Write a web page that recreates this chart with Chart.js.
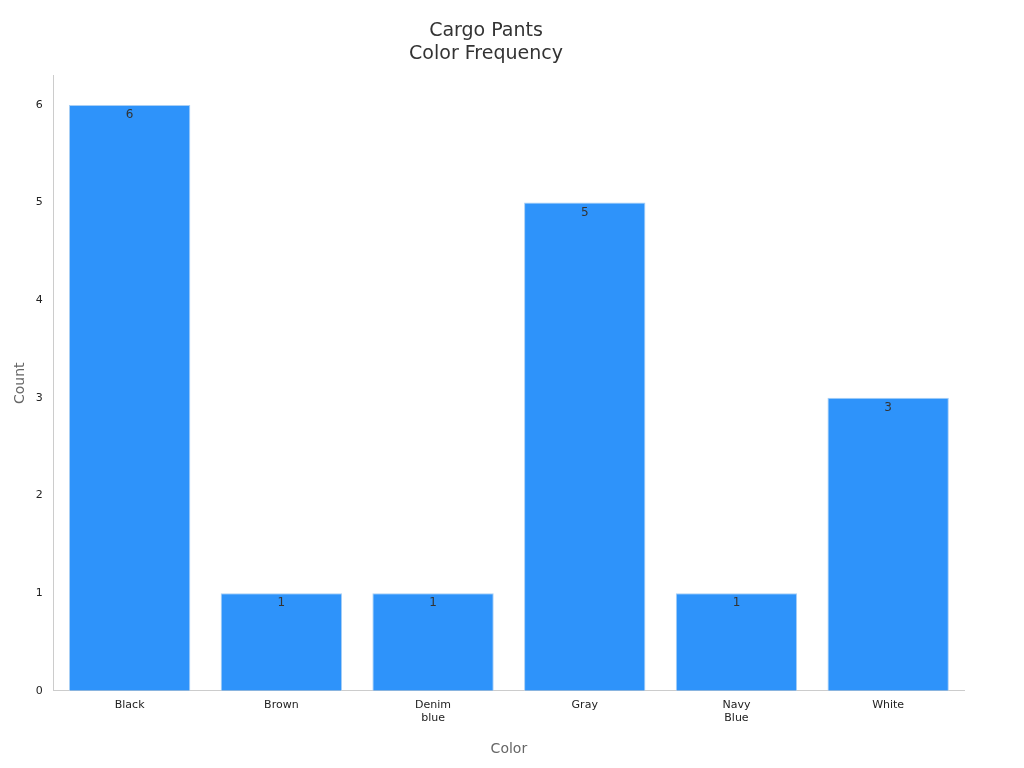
<!DOCTYPE html>
<html><head><meta charset="utf-8">
<script src="https://cdn.jsdelivr.net/npm/chart.js@4"></script>
<style>html,body{margin:0;background:#fff}#w{width:1024px;height:768px}</style>
</head><body><div id="w"><canvas id="c"></canvas></div>
<script>
const categories = [["Black"],["Brown"],["Denim","blue"],["Gray"],["Navy","Blue"],["White"]];
const counts = [6,1,1,5,1,3];
const titleLines = ["Cargo Pants","Color Frequency"];

const labelPlugin = {
  id:'vals',
  afterDatasetsDraw(chart){
    const ctx=chart.ctx, meta=chart.getDatasetMeta(0);
    ctx.save();ctx.font='12px "DejaVu Sans"';ctx.fillStyle='#333';ctx.textAlign='center';ctx.textBaseline='top';
    meta.data.forEach((b,i)=>ctx.fillText(String(counts[i]),b.x,b.y+4));
    ctx.restore();
  }
};
new Chart(document.getElementById('c'),{
  type:'bar',
  data:{labels:categories,datasets:[{data:counts,backgroundColor:'#2e93fa',borderColor:'#a8cff5',borderWidth:1,barPercentage:0.8,categoryPercentage:1}]},
  options:{
    responsive:true,maintainAspectRatio:false,animation:false,
    layout:{padding:{left:8,right:60,top:10,bottom:6}},
    plugins:{legend:{display:false},tooltip:{enabled:false},
      title:{display:true,text:titleLines,color:'#333',font:{family:'DejaVu Sans',size:19,weight:'normal'},padding:{top:10,bottom:10}}},
    scales:{
      x:{grid:{display:false,drawTicks:false},border:{color:'#ccc'},
         ticks:{color:'#222',font:{family:'DejaVu Sans',size:11},padding:8},
         title:{display:true,text:'Color',color:'#666',font:{family:'DejaVu Sans',size:14},padding:{top:8}}},
      y:{min:0,max:6.3,grid:{display:false},border:{color:'#ccc'},
         afterBuildTicks(s){s.ticks=s.ticks.filter(t=>Number.isInteger(t.value));},
         ticks:{stepSize:1,color:'#222',font:{family:'DejaVu Sans',size:11}},
         title:{display:true,text:'Count',color:'#666',font:{family:'DejaVu Sans',size:14}}}
    }
  },
  plugins:[labelPlugin]
});
</script></body></html>
